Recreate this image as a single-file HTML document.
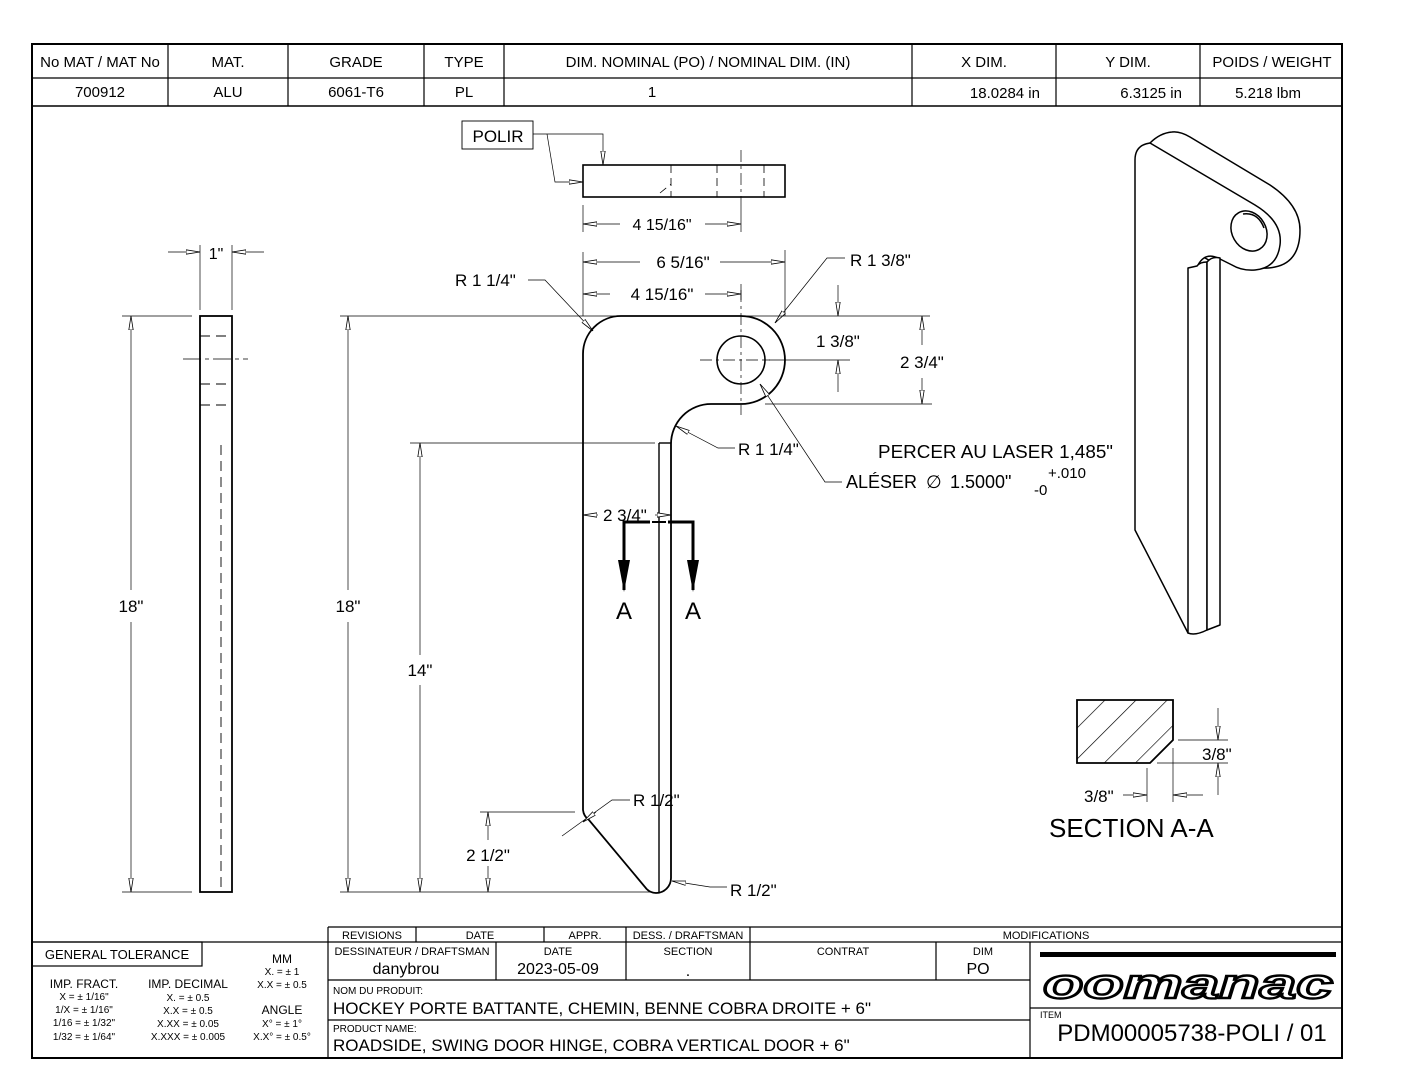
<!DOCTYPE html>
<html><head><meta charset="utf-8"><style>
html,body{margin:0;padding:0;background:#fff}
svg{display:block;font-family:"Liberation Sans",sans-serif}
</style></head><body>
<svg width="1408" height="1088" viewBox="0 0 1408 1088" xmlns="http://www.w3.org/2000/svg">
<defs>
<marker id="a" viewBox="0 0 14 6" refX="14" refY="3" markerWidth="14" markerHeight="6" orient="auto-start-reverse" markerUnits="userSpaceOnUse">
<path d="M0,0.8 L14,3 L0,5.2 Z" fill="#fff" stroke="#000" stroke-width="0.8"/></marker>
<pattern id="h" patternUnits="userSpaceOnUse" width="22" height="22" patternTransform="rotate(45)">
<line x1="0" y1="0" x2="0" y2="22" stroke="#000" stroke-width="1.3"/></pattern>
</defs>

<rect x="32" y="44" width="1310" height="1014" fill="none" stroke="#000" stroke-width="2"/>
<g stroke="#000" stroke-width="1.2">
<line x1="32" y1="78" x2="1342" y2="78"/>
<line x1="32" y1="106" x2="1342" y2="106" stroke-width="1.6"/>
<line x1="168" y1="44" x2="168" y2="106"/><line x1="288" y1="44" x2="288" y2="106"/>
<line x1="424" y1="44" x2="424" y2="106"/><line x1="504" y1="44" x2="504" y2="106"/>
<line x1="912" y1="44" x2="912" y2="106"/><line x1="1056" y1="44" x2="1056" y2="106"/>
<line x1="1200" y1="44" x2="1200" y2="106"/>
</g>
<g font-size="15" text-anchor="middle">
<text x="100" y="67">No MAT / MAT No</text><text x="228" y="67">MAT.</text><text x="356" y="67">GRADE</text>
<text x="464" y="67">TYPE</text><text x="708" y="67">DIM. NOMINAL (PO) / NOMINAL DIM. (IN)</text>
<text x="984" y="67">X DIM.</text><text x="1128" y="67">Y DIM.</text><text x="1272" y="67">POIDS / WEIGHT</text>
<text x="100" y="97">700912</text><text x="228" y="97">ALU</text><text x="356" y="97">6061-T6</text>
<text x="464" y="97">PL</text><text x="652" y="97">1</text>
<text x="1040" y="98" text-anchor="end">18.0284 in</text><text x="1182" y="98" text-anchor="end">6.3125 in</text>
<text x="1268" y="98">5.218 lbm</text>
</g>

<!-- side view -->
<g stroke="#000" fill="none">
<rect x="200" y="316" width="32" height="576" stroke-width="1.8"/>
<g stroke-width="0.9" stroke-dasharray="10,6">
<line x1="200" y1="336" x2="232" y2="336"/><line x1="200" y1="384" x2="232" y2="384"/>
<line x1="200" y1="405" x2="232" y2="405"/><line x1="221" y1="445" x2="221" y2="892"/>
</g>
<line x1="183" y1="359" x2="248" y2="359" stroke-width="0.7" stroke-dasharray="18,4,4,4"/>
<g stroke-width="0.7">
<line x1="200" y1="245" x2="200" y2="310"/><line x1="232" y1="245" x2="232" y2="310"/>
<line x1="168" y1="252" x2="200" y2="252" marker-end="url(#a)"/><line x1="264" y1="252" x2="232" y2="252" marker-end="url(#a)"/>
<line x1="122" y1="316" x2="192" y2="316"/><line x1="122" y1="892" x2="192" y2="892"/>
<line x1="131" y1="590" x2="131" y2="316" marker-end="url(#a)"/><line x1="131" y1="622" x2="131" y2="892" marker-end="url(#a)"/>
</g></g>
<text x="216" y="259" font-size="16" text-anchor="middle">1"</text>
<text x="131" y="612" font-size="17" text-anchor="middle">18"</text>

<!-- top view -->
<g stroke="#000" fill="none">
<rect x="583" y="165" width="202" height="32" stroke-width="1.6"/>
<g stroke-width="0.8" stroke-dasharray="8,5">
<line x1="671" y1="165" x2="671" y2="197"/><line x1="717" y1="165" x2="717" y2="197"/><line x1="764" y1="165" x2="764" y2="197"/>
<line x1="660" y1="193" x2="671" y2="184"/></g>
<line x1="741" y1="150" x2="741" y2="206" stroke-width="0.7" stroke-dasharray="12,4,3,4"/>
<rect x="462" y="121" width="71" height="28" stroke-width="0.9"/>
<g stroke-width="0.7">
<polyline points="533,134 603,134 603,165" marker-end="url(#a)"/>
<polyline points="547,134 555,182 583,182" marker-end="url(#a)"/>
<line x1="583" y1="205" x2="583" y2="232"/><line x1="741" y1="206" x2="741" y2="232"/>
<line x1="620" y1="224" x2="583" y2="224" marker-end="url(#a)"/><line x1="705" y1="224" x2="741" y2="224" marker-end="url(#a)"/>
</g></g>
<text x="498" y="142" font-size="17" text-anchor="middle">POLIR</text>
<text x="662" y="230" font-size="16" text-anchor="middle">4 15/16"</text>

<!-- main view -->
<g stroke="#000" fill="none">
<path d="M583,354 A38,38 0 0 1 621,316 L741,316 A44,44 0 0 1 741,404 L711,404 A40,40 0 0 0 671,444 L671,878 A15,15 0 0 1 656,893 A14,14 0 0 1 645,887 L589,820 A14,14 0 0 1 583,810 Z" stroke-width="1.8"/>
<line x1="659" y1="443" x2="659" y2="892" stroke-width="1.4"/>
<line x1="659" y1="443" x2="671" y2="443" stroke-width="1.4"/>
<circle cx="741" cy="360" r="24" stroke-width="1.6"/>
<g stroke-width="0.7" stroke-dasharray="12,4,3,4">
<line x1="741" y1="290" x2="741" y2="415"/><line x1="700" y1="360" x2="770" y2="360"/></g>
<g stroke-width="0.7">
<line x1="583" y1="252" x2="583" y2="316"/><line x1="785" y1="250" x2="785" y2="316"/>
<line x1="741" y1="284" x2="741" y2="300"/>
<line x1="640" y1="262" x2="583" y2="262" marker-end="url(#a)"/><line x1="720" y1="262" x2="785" y2="262" marker-end="url(#a)"/>
<line x1="610" y1="294" x2="583" y2="294" marker-end="url(#a)"/><line x1="705" y1="294" x2="741" y2="294" marker-end="url(#a)"/>
<polyline points="528,280 545,280 593,331" marker-end="url(#a)"/>
<polyline points="845,258 827,258 775,323" marker-end="url(#a)"/>
<line x1="340" y1="316" x2="930" y2="316"/><line x1="765" y1="360" x2="850" y2="360"/>
<line x1="765" y1="404" x2="932" y2="404"/>
<line x1="838" y1="285" x2="838" y2="316" marker-end="url(#a)"/><line x1="838" y1="392" x2="838" y2="360" marker-end="url(#a)"/>
<line x1="922" y1="345" x2="922" y2="316" marker-end="url(#a)"/><line x1="922" y1="378" x2="922" y2="404" marker-end="url(#a)"/>
<polyline points="735,448 718,448 676,426" marker-end="url(#a)"/>
<polyline points="842,482 825,482 760,384" marker-end="url(#a)"/>
<line x1="340" y1="892" x2="650" y2="892"/>
<line x1="348" y1="590" x2="348" y2="316" marker-end="url(#a)"/><line x1="348" y1="622" x2="348" y2="892" marker-end="url(#a)"/>
<line x1="410" y1="443" x2="655" y2="443"/>
<line x1="420" y1="655" x2="420" y2="443" marker-end="url(#a)"/><line x1="420" y1="685" x2="420" y2="892" marker-end="url(#a)"/>
<line x1="480" y1="812" x2="575" y2="812"/>
<line x1="488" y1="840" x2="488" y2="812" marker-end="url(#a)"/><line x1="488" y1="866" x2="488" y2="892" marker-end="url(#a)"/>
<polyline points="630,800 612,800 562,836"/><line x1="596" y1="812" x2="583" y2="822" marker-end="url(#a)"/>
<polyline points="727,887 710,887 672,881" marker-end="url(#a)"/>
<line x1="598" y1="515" x2="583" y2="515" marker-end="url(#a)"/><line x1="655" y1="515" x2="671" y2="515" marker-end="url(#a)"/>
</g>
<g stroke-width="3">
<polyline points="624,590 624,522 650,522"/><polyline points="668,522 693,522 693,590"/>
<line x1="652" y1="522" x2="666" y2="522" stroke-width="2"/>
</g>
<path d="M618,560 L630,560 L624,592 Z M687,560 L699,560 L693,592 Z" fill="#000" stroke="none"/>
</g>
<g font-size="17">
<text x="348" y="612" text-anchor="middle">18"</text>
<text x="420" y="676" text-anchor="middle">14"</text>
<text x="488" y="861" text-anchor="middle">2 1/2"</text>
<text x="683" y="268" text-anchor="middle">6 5/16"</text>
<text x="662" y="300" text-anchor="middle">4 15/16"</text>
<text x="455" y="286">R 1 1/4"</text>
<text x="850" y="266">R 1 3/8"</text>
<text x="816" y="347">1 3/8"</text>
<text x="900" y="368">2 3/4"</text>
<text x="738" y="455">R 1 1/4"</text>
<text x="878" y="458" font-size="18" textLength="235" lengthAdjust="spacingAndGlyphs">PERCER AU LASER 1,485"</text>
<text x="846" y="488" font-size="18">ALÉSER</text>
<text x="926" y="488" font-size="18">∅</text>
<text x="950" y="488" font-size="18">1.5000"</text>
<text x="1048" y="478" font-size="15">+.010</text>
<text x="1034" y="495" font-size="15">-0</text>
<text x="603" y="521">2 3/4"</text>
<text x="633" y="806">R 1/2"</text>
<text x="730" y="896">R 1/2"</text>
<text x="624" y="619" font-size="24" text-anchor="middle">A</text>
<text x="693" y="619" font-size="24" text-anchor="middle">A</text>
</g>

<!-- section A-A -->
<g stroke="#000">
<path d="M1077,700 L1173,700 L1173,740 L1150,763 L1077,763 Z" fill="url(#h)" stroke-width="1.8"/>
<g stroke-width="0.7" fill="none">
<line x1="1178" y1="740" x2="1228" y2="740"/><line x1="1157" y1="763" x2="1228" y2="763"/>
<line x1="1218" y1="708" x2="1218" y2="740" marker-end="url(#a)"/><line x1="1218" y1="795" x2="1218" y2="763" marker-end="url(#a)"/>
<line x1="1147" y1="768" x2="1147" y2="802"/><line x1="1173" y1="748" x2="1173" y2="802"/>
<line x1="1123" y1="795" x2="1147" y2="795" marker-end="url(#a)"/><line x1="1203" y1="795" x2="1173" y2="795" marker-end="url(#a)"/>
</g></g>
<text x="1202" y="760" font-size="17">3/8"</text>
<text x="1084" y="802" font-size="17">3/8"</text>
<text x="1049" y="837" font-size="26">SECTION A-A</text>

<!-- iso view -->
<g stroke="#000" stroke-width="1.5" fill="#fff" stroke-linejoin="round">
<path d="M1150,143 Q1160,133 1172,132 Q1180,131 1190,137 L1270,185 Q1300,205 1300,230 Q1300,262 1275,267 Q1262,270 1250,265 L1235,258 Q1220,252 1212,262 L1200,255 Z"/>
<path d="M1135,160 Q1135,145 1150,143 L1255,205 Q1283,222 1280,245 Q1277,268 1255,270 Q1242,271 1232,265 L1218,258 Q1205,252 1198,265 L1196,600 L1188,633 L1135,530 Z"/>
<path d="M1188,268 L1188,633 Q1195,636 1207,630 L1207,262 Q1200,262 1197,266 Z"/>
<path d="M1207,262 Q1212,256 1220,258 L1220,625 L1207,630 Z"/>
<ellipse cx="1249" cy="231" rx="17" ry="21" transform="rotate(-30 1249 231)"/>
<path d="M1243,214 Q1258,212 1264,228" fill="none"/>
</g>

<!-- title block -->
<g stroke="#000" stroke-width="1.2" fill="none">
<line x1="328" y1="927" x2="1342" y2="927"/>
<line x1="32" y1="942" x2="1342" y2="942"/>
<line x1="328" y1="927" x2="328" y2="1058"/>
<line x1="416" y1="927" x2="416" y2="942"/><line x1="544" y1="927" x2="544" y2="942"/>
<line x1="626" y1="927" x2="626" y2="980"/><line x1="750" y1="927" x2="750" y2="980"/>
<line x1="496" y1="942" x2="496" y2="980"/><line x1="936" y1="942" x2="936" y2="980"/>
<line x1="1030" y1="942" x2="1030" y2="1058"/>
<line x1="328" y1="980" x2="1030" y2="980"/>
<line x1="328" y1="1020" x2="1030" y2="1020"/>
<line x1="1030" y1="1008" x2="1342" y2="1008"/>
<rect x="32" y="942" width="170" height="24"/>
</g>
<g font-size="11" text-anchor="middle">
<text x="372" y="939">REVISIONS</text><text x="480" y="939">DATE</text><text x="585" y="939">APPR.</text>
<text x="688" y="939">DESS. / DRAFTSMAN</text><text x="1046" y="939">MODIFICATIONS</text>
<text x="412" y="955">DESSINATEUR / DRAFTSMAN</text><text x="558" y="955">DATE</text><text x="688" y="955">SECTION</text>
<text x="843" y="955">CONTRAT</text><text x="983" y="955">DIM</text>
</g>
<g font-size="16" text-anchor="middle">
<text x="406" y="974">danybrou</text><text x="558" y="974">2023-05-09</text><text x="688" y="976">.</text>
<text x="978" y="974">PO</text>
</g>
<text x="333" y="994" font-size="10">NOM DU PRODUIT:</text>
<text x="333" y="1014" font-size="17">HOCKEY PORTE BATTANTE, CHEMIN, BENNE COBRA DROITE + 6"</text>
<text x="333" y="1032" font-size="10">PRODUCT NAME:</text>
<text x="333" y="1051" font-size="17">ROADSIDE, SWING DOOR HINGE, COBRA VERTICAL DOOR + 6"</text>
<text x="1040" y="1018" font-size="9">ITEM</text>
<text x="1192" y="1041" font-size="24" text-anchor="middle">PDM00005738-POLI / 01</text>
<rect x="1040" y="952" width="296" height="5" fill="#000"/>
<text x="1188" y="998" font-size="42" font-weight="bold" font-style="italic" text-anchor="middle" style="fill:#fff;stroke:#000;stroke-width:2.4" textLength="290" lengthAdjust="spacingAndGlyphs">oomanac</text>
<g font-size="12" text-anchor="middle">
<text x="117" y="959" font-size="13">GENERAL TOLERANCE</text>
<text x="282" y="963">MM</text>
<text x="282" y="975" font-size="10">X. = ± 1</text>
<text x="282" y="988" font-size="10">X.X = ± 0.5</text>
<text x="84" y="988">IMP. FRACT.</text>
<text x="188" y="988">IMP. DECIMAL</text>
<text x="84" y="1000" font-size="10">X = ± 1/16"</text>
<text x="84" y="1013" font-size="10">1/X = ± 1/16"</text>
<text x="84" y="1026" font-size="10">1/16 = ± 1/32"</text>
<text x="84" y="1040" font-size="10">1/32 = ± 1/64"</text>
<text x="188" y="1001" font-size="10">X. = ±  0.5</text>
<text x="188" y="1014" font-size="10">X.X = ± 0.5</text>
<text x="188" y="1027" font-size="10">X.XX = ± 0.05</text>
<text x="188" y="1040" font-size="10">X.XXX = ± 0.005</text>
<text x="282" y="1014" font-size="12">ANGLE</text>
<text x="282" y="1027" font-size="10">X° = ± 1°</text>
<text x="282" y="1040" font-size="10">X.X° = ± 0.5°</text>
</g>
</svg>
</body></html>
